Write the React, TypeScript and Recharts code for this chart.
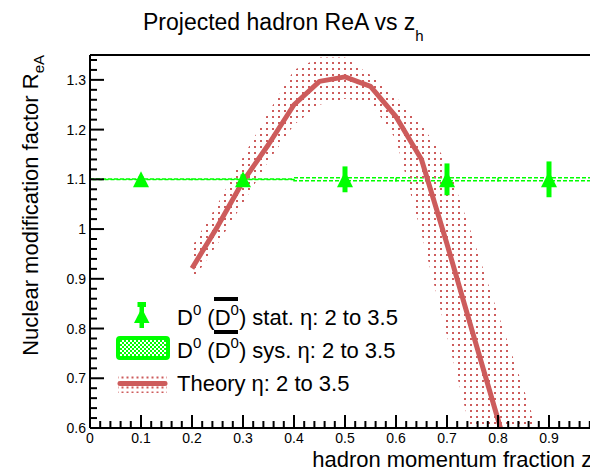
import React from "react"
import {
  ComposedChart,
  Line,
  Area,
  Scatter,
  ErrorBar,
  XAxis,
  YAxis,
  ReferenceArea,
  ReferenceLine,
} from "recharts"

// theory curve (z_h, R_eA) with its uncertainty band
const theoryZ = [0.2, 0.25, 0.3, 0.35, 0.4, 0.45, 0.5, 0.55, 0.6, 0.65, 0.7, 0.75, 0.8, 0.85, 0.9]
const theoryR = [0.921, 1.005, 1.096, 1.17, 1.25, 1.297, 1.306, 1.287, 1.226, 1.14, 0.97, 0.793, 0.617, 0.44, 0.27]
const theoryLow = [0.895, 0.97, 1.052, 1.137, 1.21, 1.25, 1.262, 1.255, 1.18, 0.99, 0.785, 0.58, 0.38, 0.2, 0.02]
const theoryHigh = [0.965, 1.05, 1.145, 1.235, 1.32, 1.345, 1.345, 1.31, 1.265, 1.21, 1.135, 0.985, 0.83, 0.68, 0.525]

// projected D0 points
const statZ = [0.1, 0.3, 0.5, 0.7, 0.9]
const statR = [1.1, 1.1, 1.1, 1.1, 1.1]
const statErr = [0.006, 0.01, 0.026, 0.032, 0.036]
const sysErr = [0.0005, 0.0005, 0.003, 0.003, 0.003]
const sysHalfWidth = 0.1

// "1" sits past the right edge of the canvas, so it is left out
const xLabels = ["0", "0.1", "0.2", "0.3", "0.4", "0.5", "0.6", "0.7", "0.8", "0.9"]
const yLabels = ["0.6", "0.7", "0.8", "0.9", "1", "1.1", "1.2", "1.3"]

const RED = "#cd5c5c"
const GREEN = "#00ff00"
const FONT = "'Liberation Sans', Arial, Helvetica, sans-serif"

const theoryRows = theoryZ.map((z, i) => ({
  x: z,
  y: theoryR[i],
  band: [theoryLow[i], theoryHigh[i]],
}))

const statRows = statZ.map((z, i) => ({ x: z, y: statR[i], err: statErr[i] }))

// minor ticks every 0.02
const xTicks: number[] = []
for (let i = 0; i <= 50; i++) xTicks.push(i / 50)
const yTicks: number[] = []
for (let i = 30; i <= 67; i++) yTicks.push(i / 50)

const isMajor = (v: number) => Math.abs(v * 10 - Math.round(v * 10)) < 1e-6

const XTick = (props: any) => {
  const { x, y, payload } = props
  const v = payload.value
  const major = isMajor(v)
  const lbl = major ? xLabels[Math.round(v * 10)] : null
  return (
    <g>
      <line x1={x} x2={x} y1={y} y2={y - (major ? 13 : 7)} stroke="#000" strokeWidth={2} />
      {lbl != null && (
        <text x={x} y={y + 15} textAnchor="middle" fontSize={14} fontFamily={FONT} fill="#000">
          {lbl}
        </text>
      )}
    </g>
  )
}

const YTick = (props: any) => {
  const { x, y, payload } = props
  const v = payload.value
  const major = isMajor(v)
  const idx = Math.round(v * 10) - 6
  const lbl = major ? yLabels[idx] : null
  return (
    <g>
      <line x1={x} x2={x + (major ? 14 : 7)} y1={y} y2={y} stroke="#000" strokeWidth={2} />
      {lbl != null && (
        <text x={x - 4} y={y + 5} textAnchor="end" fontSize={14} fontFamily={FONT} fill="#000">
          {lbl}
        </text>
      )}
    </g>
  )
}

const Triangle = (props: any) => {
  const { cx, cy } = props
  return <polygon points={`${cx},${cy - 8} ${cx - 8},${cy + 8} ${cx + 8},${cy + 8}`} fill={GREEN} />
}

const DLabel = ({ x, y, rest }: { x: number; y: number; rest: string }) => (
  <g fontFamily={FONT} fill="#000">
    <text x={x} y={y} fontSize={22}>
      D
      <tspan fontSize={15} dy={-10}>0</tspan>
      <tspan fontSize={22} dy={10}> (D</tspan>
      <tspan fontSize={15} dy={-10}>0</tspan>
      <tspan fontSize={22} dy={10}>{rest}</tspan>
    </text>
    <rect x={x + 37} y={y - 28} width={24} height={4} fill="#000" />
  </g>
)

function Overlay() {
  return (
    <svg
      width={620}
      height={475}
      style={{ position: "absolute", left: 0, top: 0, pointerEvents: "none" }}
    >
      <defs>
        <pattern id="checker" patternUnits="userSpaceOnUse" width={4} height={4}>
          <rect x={0} y={0} width={2} height={2} fill={GREEN} />
          <rect x={2} y={2} width={2} height={2} fill={GREEN} />
        </pattern>
        <pattern id="dotsLeg" patternUnits="userSpaceOnUse" width={5} height={5}>
          <rect x={1.5} y={1.5} width={2} height={2} fill={RED} />
        </pattern>
      </defs>

      {/* title */}
      <text x={143} y={30} fontSize={23} fontFamily={FONT} fill="#000">
        Projected hadron ReA vs z
        <tspan fontSize={15} dy={11}>h</tspan>
      </text>

      {/* axis titles */}
      <text x={600} y={467} textAnchor="end" fontSize={22} fontFamily={FONT} fill="#000">
        hadron momentum fraction z
        <tspan fontSize={14} dy={6}>h</tspan>
      </text>
      <text
        transform="translate(38,55) rotate(-90)"
        textAnchor="end"
        fontSize={22}
        fontFamily={FONT}
        fill="#000"
      >
        Nuclear modification factor R
        <tspan fontSize={15} dy={6}>eA</tspan>
      </text>

      {/* legend */}
      <rect x={139.5} y={302} width={4.5} height={26} fill={GREEN} />
      <rect x={137.5} y={302} width={8.5} height={5} fill={GREEN} />
      <polygon points="141.7,308 134,323 149.5,323" fill={GREEN} />
      <DLabel x={177} y={325} rest=") stat. η: 2 to 3.5" />

      <rect x={118} y={338} width={50} height={20} rx={2} fill="url(#checker)" stroke={GREEN} strokeWidth={4} />
      <DLabel x={177} y={358} rest=") sys. η: 2 to 3.5" />

      <rect x={118} y={374} width={49} height={19} fill="url(#dotsLeg)" />
      <line x1={120} x2={165} y1={383.5} y2={383.5} stroke={RED} strokeWidth={5} strokeLinecap="round" />
      <text x={177} y={391} fontSize={22} fontFamily={FONT} fill="#000">
        Theory η: 2 to 3.5
      </text>
    </svg>
  )
}

export default function App() {
  return (
    <div
      style={{
        position: "absolute",
        left: 0,
        top: 0,
        width: 590,
        height: 475,
        overflow: "hidden",
        background: "#fff",
      }}
    >
      <div style={{ position: "relative", width: 620, height: 475 }}>
        <ComposedChart
          width={620}
          height={475}
          data={theoryRows}
          margin={{ top: 55, right: 20, left: 0, bottom: 0 }}
        >
          <defs>
            <pattern id="dots" patternUnits="userSpaceOnUse" width={6} height={6}>
              <rect x={2} y={2} width={2} height={2} fill={RED} />
            </pattern>
          </defs>
          <XAxis
            dataKey="x"
            type="number"
            domain={[0, 1]}
            ticks={xTicks}
            interval={0}
            tick={XTick}
            tickSize={0}
            tickMargin={0}
            tickLine={false}
            axisLine={{ stroke: "#000", strokeWidth: 2 }}
            height={47}
            allowDataOverflow
          />
          <YAxis
            type="number"
            domain={[0.6, 1.35]}
            ticks={yTicks}
            interval={0}
            tick={YTick}
            tickSize={0}
            tickMargin={0}
            tickLine={false}
            axisLine={{ stroke: "#000", strokeWidth: 2 }}
            width={90}
            allowDataOverflow
          />
          <ReferenceLine y={1.35} stroke="#000" strokeWidth={2} />
          {statZ.map((z, i) => (
            <ReferenceArea
              key={i}
              x1={z - sysHalfWidth}
              x2={z + sysHalfWidth}
              y1={statR[i] - sysErr[i]}
              y2={statR[i] + sysErr[i]}
              fill="none"
              fillOpacity={0}
              stroke={GREEN}
              strokeWidth={1.5}
              strokeDasharray="4 2"
            />
          ))}
          <Area
            dataKey="band"
            type="linear"
            stroke="none"
            fill="url(#dots)"
            fillOpacity={1}
            isAnimationActive={false}
          />
          <Line
            dataKey="y"
            type="linear"
            stroke={RED}
            strokeWidth={5}
            strokeLinejoin="round"
            dot={false}
            isAnimationActive={false}
          />
          <Scatter data={statRows} dataKey="y" shape={Triangle} isAnimationActive={false}>
            <ErrorBar dataKey="err" direction="y" width={0} stroke={GREEN} strokeWidth={5} />
          </Scatter>
        </ComposedChart>
        <Overlay />
      </div>
    </div>
  )
}
